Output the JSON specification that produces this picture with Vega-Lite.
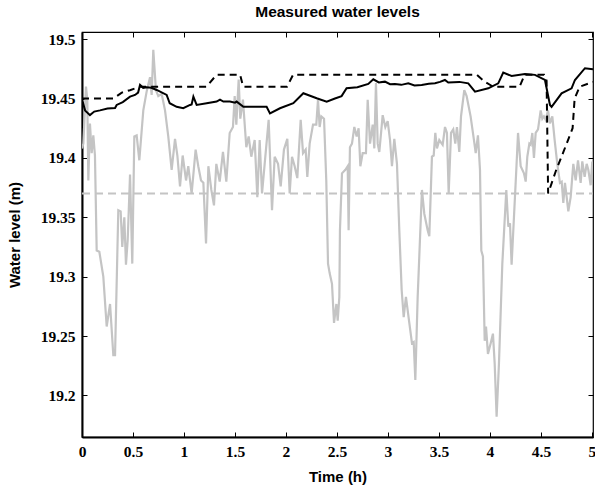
{
  "$schema": "https://vega.github.io/schema/vega-lite/v6.json",
  "width": 511,
  "height": 405,
  "autosize": {"type": "none"},
  "padding": {"left": 82, "top": 32, "right": 2, "bottom": 53},
  "background": "white",
  "title": {"text": "Measured water levels", "font": "Liberation Sans", "fontWeight": "bold", "fontSize": 15.5, "color": "black", "anchor": "middle", "offset": 11},
  "config": {
    "view": {"stroke": "black", "strokeWidth": 1.2},
    "axis": {"grid": false, "domainColor": "black", "tickColor": "black", "labelColor": "black", "titleColor": "black", "labelFlush": false,
             "labelFont": "Liberation Serif", "labelFontWeight": "bold", "labelFontSize": 15.5,
             "titleFont": "Liberation Sans", "titleFontWeight": "bold", "titleFontSize": 15}
  },
  "datasets": {
    "ref": [{"t": 0, "level": 19.37}, {"t": 5.01, "level": 19.37}],
    "measured": [
      {"t":0.0,"level":19.408},{"t":0.013,"level":19.412},{"t":0.039,"level":19.46},{"t":0.052,"level":19.449},{"t":0.062,"level":19.381},{"t":0.078,"level":19.429},{"t":0.095,"level":19.404},{"t":0.111,"level":19.419},{"t":0.127,"level":19.402},{"t":0.144,"level":19.322},{"t":0.17,"level":19.321},{"t":0.209,"level":19.3},{"t":0.242,"level":19.258},{"t":0.275,"level":19.277},{"t":0.307,"level":19.234},{"t":0.324,"level":19.234},{"t":0.356,"level":19.356},{"t":0.379,"level":19.355},{"t":0.395,"level":19.325},{"t":0.415,"level":19.35},{"t":0.431,"level":19.31},{"t":0.448,"level":19.331},{"t":0.471,"level":19.386},{"t":0.493,"level":19.311},{"t":0.513,"level":19.418},{"t":0.536,"level":19.419},{"t":0.562,"level":19.398},{"t":0.601,"level":19.44},{"t":0.634,"level":19.456},{"t":0.667,"level":19.468},{"t":0.683,"level":19.453},{"t":0.699,"level":19.491},{"t":0.725,"level":19.457},{"t":0.748,"level":19.452},{"t":0.781,"level":19.454},{"t":0.814,"level":19.44},{"t":0.846,"level":19.418},{"t":0.879,"level":19.39},{"t":0.912,"level":19.416},{"t":0.935,"level":19.402},{"t":0.961,"level":19.376},{"t":0.987,"level":19.402},{"t":1.02,"level":19.381},{"t":1.042,"level":19.393},{"t":1.075,"level":19.37},{"t":1.114,"level":19.407},{"t":1.14,"level":19.393},{"t":1.167,"level":19.381},{"t":1.19,"level":19.379},{"t":1.216,"level":19.328},{"t":1.239,"level":19.393},
      {"t":1.268,"level":19.373},{"t":1.294,"level":19.36},{"t":1.317,"level":19.395},{"t":1.35,"level":19.38},{"t":1.382,"level":19.405},{"t":1.415,"level":19.38},{"t":1.448,"level":19.421},{"t":1.48,"level":19.426},{"t":1.497,"level":19.452},{"t":1.513,"level":19.428},{"t":1.536,"level":19.466},{"t":1.552,"level":19.433},{"t":1.578,"level":19.449},{"t":1.611,"level":19.409},{"t":1.634,"level":19.418},{"t":1.66,"level":19.401},{"t":1.693,"level":19.415},{"t":1.719,"level":19.367},{"t":1.742,"level":19.415},{"t":1.765,"level":19.37},{"t":1.791,"level":19.395},{"t":1.83,"level":19.432},{"t":1.863,"level":19.356},{"t":1.889,"level":19.401},{"t":1.922,"level":19.395},{"t":1.948,"level":19.376},{"t":1.98,"level":19.407},{"t":2.013,"level":19.416},{"t":2.036,"level":19.37},{"t":2.059,"level":19.401},{"t":2.085,"level":19.393},{"t":2.111,"level":19.383},{"t":2.144,"level":19.432},{"t":2.167,"level":19.404},{"t":2.193,"level":19.407},{"t":2.209,"level":19.384},{"t":2.232,"level":19.412},{"t":2.265,"level":19.428},{"t":2.297,"level":19.428},{"t":2.314,"level":19.449},{"t":2.33,"level":19.426},{"t":2.346,"level":19.435},{"t":2.373,"level":19.433},{"t":2.395,"level":19.381},{"t":2.412,"level":19.311},{"t":2.428,"level":19.303},{"t":2.451,"level":19.294},{"t":2.471,"level":19.261},{"t":2.494,"level":19.277},
      {"t":2.507,"level":19.263},{"t":2.523,"level":19.283},{"t":2.529,"level":19.339},{"t":2.549,"level":19.387},{"t":2.582,"level":19.39},{"t":2.605,"level":19.393},{"t":2.614,"level":19.339},{"t":2.627,"level":19.409},{"t":2.647,"level":19.412},{"t":2.67,"level":19.426},{"t":2.693,"level":19.418},{"t":2.712,"level":19.425},{"t":2.729,"level":19.393},{"t":2.752,"level":19.404},{"t":2.784,"level":19.404},{"t":2.801,"level":19.449},{"t":2.824,"level":19.412},{"t":2.85,"level":19.428},{"t":2.866,"level":19.408},{"t":2.882,"level":19.463},{"t":2.899,"level":19.412},{"t":2.915,"level":19.405},{"t":2.948,"level":19.436},{"t":2.974,"level":19.426},{"t":2.997,"level":19.431},{"t":3.02,"level":19.415},{"t":3.039,"level":19.393},{"t":3.062,"level":19.416},{"t":3.088,"level":19.395},{"t":3.111,"level":19.339},{"t":3.134,"level":19.289},{"t":3.154,"level":19.266},{"t":3.176,"level":19.283},{"t":3.209,"level":19.261},{"t":3.235,"level":19.244},{"t":3.252,"level":19.245},{"t":3.268,"level":19.213},{"t":3.291,"level":19.283},{"t":3.333,"level":19.373},{"t":3.356,"level":19.353},{"t":3.389,"level":19.339},{"t":3.405,"level":19.334},{"t":3.431,"level":19.401},{"t":3.448,"level":19.402},{"t":3.464,"level":19.421},{"t":3.48,"level":19.408},{"t":3.503,"level":19.415},{"t":3.536,"level":19.411},{"t":3.559,"level":19.426},{"t":3.578,"level":19.421},{"t":3.595,"level":19.37},{"t":3.618,"level":19.421},{"t":3.64,"level":19.424},{"t":3.66,"level":19.412},{"t":3.676,"level":19.426},{"t":3.699,"level":19.405},{"t":3.716,"level":19.435},{"t":3.748,"level":19.457},
      {"t":3.771,"level":19.452},{"t":3.81,"level":19.435},{"t":3.843,"level":19.415},{"t":3.86,"level":19.404},{"t":3.882,"level":19.419},{"t":3.902,"level":19.39},{"t":3.915,"level":19.322},{"t":3.931,"level":19.317},{"t":3.948,"level":19.246},{"t":3.961,"level":19.258},{"t":3.98,"level":19.235},{"t":4.007,"level":19.244},{"t":4.029,"level":19.252},{"t":4.046,"level":19.227},{"t":4.065,"level":19.182},{"t":4.088,"level":19.227},{"t":4.121,"level":19.311},{"t":4.16,"level":19.373},{"t":4.18,"level":19.342},{"t":4.196,"level":19.345},{"t":4.212,"level":19.31},{"t":4.235,"level":19.35},{"t":4.258,"level":19.39},{"t":4.275,"level":19.421},{"t":4.301,"level":19.393},{"t":4.333,"level":19.387},{"t":4.35,"level":19.38},{"t":4.366,"level":19.401},{"t":4.386,"level":19.412},{"t":4.399,"level":19.411},{"t":4.415,"level":19.421},{"t":4.431,"level":19.4},{"t":4.448,"level":19.421},{"t":4.471,"level":19.424},{"t":4.497,"level":19.44},{"t":4.513,"level":19.433},{"t":4.529,"level":19.435},{"t":4.546,"level":19.432},{"t":4.569,"level":19.44},{"t":4.588,"level":19.429},{"t":4.611,"level":19.435},{"t":4.634,"level":19.415},{"t":4.66,"level":19.395},{"t":4.686,"level":19.379},{"t":4.703,"level":19.38},{"t":4.719,"level":19.362},{"t":4.735,"level":19.379},{"t":4.752,"level":19.367},{"t":4.768,"level":19.355},{"t":4.791,"level":19.367},{"t":4.817,"level":19.395},{"t":4.84,"level":19.381},{"t":4.863,"level":19.398},{"t":4.889,"level":19.379},{"t":4.905,"level":19.397},{"t":4.928,"level":19.384},{"t":4.948,"level":19.395},{"t":4.964,"level":19.39},{"t":4.987,"level":19.377},{"t":5.003,"level":19.397}
    ],
    "model": [
      {"t":0.006,"level":19.4474},{"t":0.03,"level":19.44},{"t":0.078,"level":19.436},{"t":0.12,"level":19.439},{"t":0.176,"level":19.44},{"t":0.25,"level":19.4415},{"t":0.324,"level":19.442},{"t":0.34,"level":19.4446},{"t":0.4,"level":19.447},{"t":0.471,"level":19.4516},{"t":0.52,"level":19.453},{"t":0.55,"level":19.455},{"t":0.569,"level":19.4614},{"t":0.6,"level":19.459},{"t":0.634,"level":19.4595},{"t":0.68,"level":19.459},{"t":0.732,"level":19.4572},{"t":0.83,"level":19.453},{"t":0.86,"level":19.446},{"t":0.928,"level":19.443},{"t":0.993,"level":19.4418},{"t":1.059,"level":19.4446},{"t":1.075,"level":19.445},{"t":1.092,"level":19.4516},{"t":1.124,"level":19.4446},{"t":1.222,"level":19.446},{"t":1.32,"level":19.4474},{"t":1.353,"level":19.449},{"t":1.386,"level":19.4474},{"t":1.45,"level":19.4474},{"t":1.5,"level":19.4465},{"t":1.516,"level":19.4474},{"t":1.582,"level":19.443},{"t":1.68,"level":19.443},{"t":1.81,"level":19.443},{"t":1.843,"level":19.4375},{"t":1.941,"level":19.4418},{"t":2.072,"level":19.446},{"t":2.17,"level":19.4544},{"t":2.301,"level":19.4502},{"t":2.399,"level":19.4474},{"t":2.48,"level":19.45},{"t":2.545,"level":19.452},{"t":2.594,"level":19.4586},{"t":2.7,"level":19.4595},{"t":2.807,"level":19.4623},{"t":2.856,"level":19.4662},{"t":2.91,"level":19.4635},{"t":2.97,"level":19.4642},{"t":3.02,"level":19.462},{"t":3.068,"level":19.4623},{"t":3.13,"level":19.4615},{"t":3.199,"level":19.4628},{"t":3.26,"level":19.461},{"t":3.33,"level":19.4614},{"t":3.4,"level":19.4625},{"t":3.461,"level":19.4628},{"t":3.51,"level":19.464},{"t":3.558,"level":19.4656},{"t":3.591,"level":19.4634},{"t":3.7,"level":19.464},{"t":3.787,"level":19.4628},{"t":3.853,"level":19.4558},{"t":3.983,"level":19.4586},{"t":4.081,"level":19.4628},{"t":4.13,"level":19.4718},{"t":4.212,"level":19.469},{"t":4.343,"level":19.4707},{"t":4.441,"level":19.4699},{"t":4.539,"level":19.4656},{"t":4.588,"level":19.4446},{"t":4.604,"level":19.443},{"t":4.702,"level":19.4544},{"t":4.8,"level":19.4586},{"t":4.833,"level":19.4656},{"t":4.931,"level":19.4755},{"t":5.01,"level":19.4746}
    ],
    "model2": [
      {"t":0,"level":19.45},{"t":0.31,"level":19.45},{"t":0.39,"level":19.455},{"t":0.47,"level":19.457},{"t":0.57,"level":19.46},{"t":1.22,"level":19.46},{"t":1.32,"level":19.47},{"t":1.55,"level":19.47},{"t":1.58,"level":19.46},{"t":2.01,"level":19.46},{"t":2.07,"level":19.47},{"t":3.87,"level":19.47},{"t":3.95,"level":19.464},{"t":4.03,"level":19.46},{"t":4.29,"level":19.46},{"t":4.34,"level":19.47},{"t":4.53,"level":19.47},{"t":4.555,"level":19.465},{"t":4.57,"level":19.37},{"t":4.65,"level":19.39},{"t":4.72,"level":19.405},{"t":4.81,"level":19.425},{"t":4.83,"level":19.45},{"t":4.88,"level":19.46},{"t":5.01,"level":19.464}
    ]
  },
  "resolve": {"axis": {"x": "independent", "y": "independent"}},
  "layer": [
    {
      "data": {"name": "ref"},
      "mark": {"type": "line", "color": "#c4c4c4", "strokeWidth": 2, "strokeDash": [8, 5], "clip": true},
      "encoding": {
        "x": {"field": "t", "type": "quantitative", "scale": {"domain": [0, 5.01], "nice": false, "zero": false},
              "axis": {"orient": "bottom", "title": "Time (h)", "values": [0,0.5,1,1.5,2,2.5,3,3.5,4,4.5,5], "format": "~g",
                       "domainWidth": 2, "tickSize": -5, "tickWidth": 1, "labelPadding": 12, "titlePadding": 10}},
        "y": {"field": "level", "type": "quantitative", "scale": {"domain": [19.165, 19.506], "nice": false, "zero": false},
              "axis": {"orient": "left", "title": "Water level (m)", "values": [19.2,19.25,19.3,19.35,19.4,19.45,19.5], "format": ".2~f",
                       "domainWidth": 2, "tickSize": -5, "tickWidth": 1, "labelPadding": 12, "titlePadding": 18}}
      }
    },
    {
      "data": {"name": "measured"},
      "mark": {"type": "line", "color": "#c4c4c4", "strokeWidth": 2.2, "clip": true},
      "encoding": {
        "x": {"field": "t", "type": "quantitative",
              "axis": {"orient": "top", "title": null, "labels": false, "domain": false, "values": [0,0.5,1,1.5,2,2.5,3,3.5,4,4.5,5], "tickSize": -5, "tickWidth": 1}},
        "y": {"field": "level", "type": "quantitative",
              "axis": {"orient": "right", "title": null, "labels": false, "domain": false, "values": [19.2,19.25,19.3,19.35,19.4,19.45,19.5], "tickSize": -5, "tickWidth": 1}}
      }
    },
    {
      "data": {"name": "model2"},
      "mark": {"type": "line", "color": "black", "strokeWidth": 2, "strokeDash": [7, 5], "clip": true},
      "encoding": {
        "x": {"field": "t", "type": "quantitative", "axis": null},
        "y": {"field": "level", "type": "quantitative", "axis": null}
      }
    },
    {
      "data": {"name": "model"},
      "mark": {"type": "line", "color": "black", "strokeWidth": 2, "clip": true},
      "encoding": {
        "x": {"field": "t", "type": "quantitative", "axis": null},
        "y": {"field": "level", "type": "quantitative", "axis": null}
      }
    }
  ]
}
